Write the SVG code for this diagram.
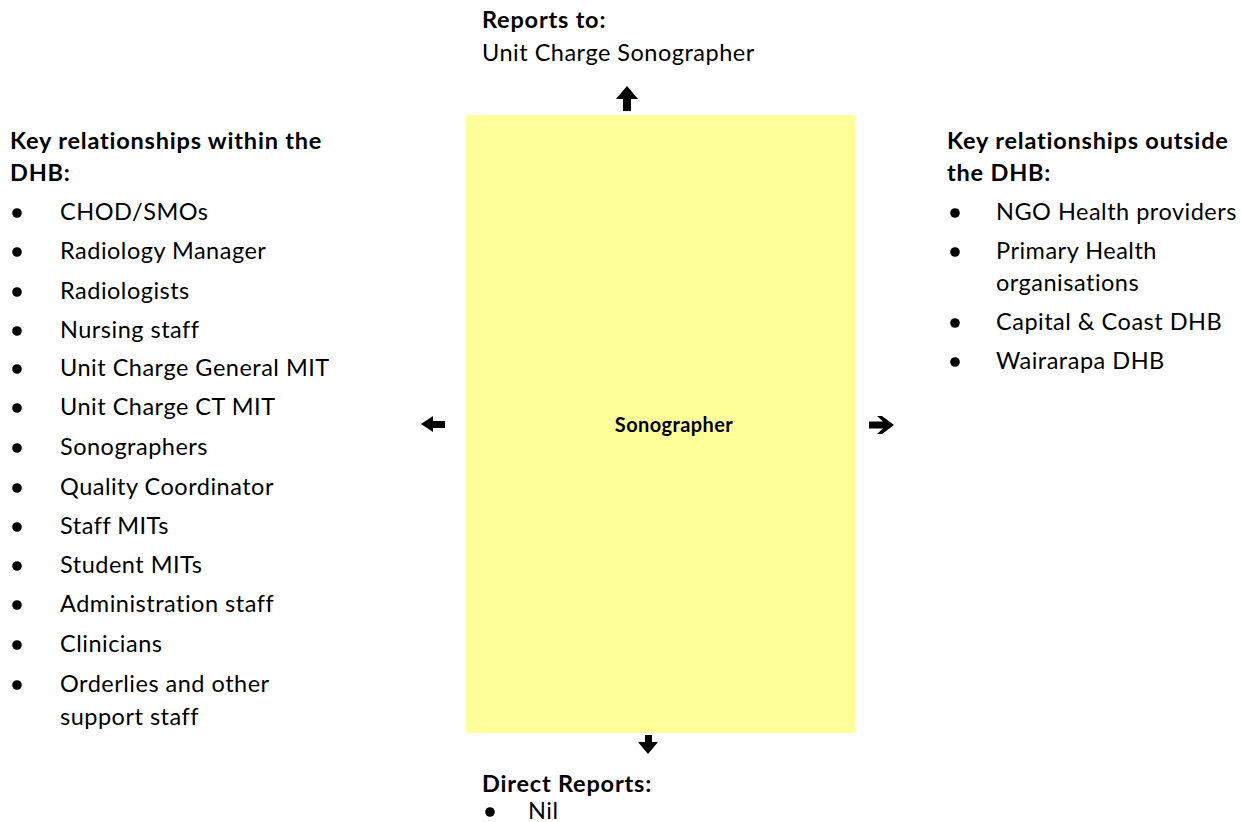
<svg xmlns="http://www.w3.org/2000/svg" width="1241" height="822" viewBox="0 0 1241 822">
<style>
text{font-family:Lato,"Open Sans",sans-serif;font-size:23.5px;letter-spacing:0.5px;fill:#000}
.b{font-weight:bold;letter-spacing:0.8px}
.c{font-size:20px;letter-spacing:0.4px}
.dot{fill:#000}
.arr{fill:#000}
</style>
<defs>
<circle id="bul" r="4.8" class="dot"/>
</defs>
<rect width="1241" height="822" fill="#fff"/>
<g id="role">
<rect x="466" y="115" width="389" height="618" fill="#FFFF99"/>
<text x="674" y="432" class="b c" text-anchor="middle">Sonographer</text>
</g>
<g id="reports-to">
<text x="482" y="28" class="b">Reports to:</text>
<text x="482" y="61">Unit Charge Sonographer</text>
</g>
<g id="within">
<text x="10" y="149" class="b">Key relationships within the</text>
<text x="10" y="181" class="b">DHB:</text>
<use href="#bul" x="17" y="213"/><text x="60" y="220">CHOD/SMOs</text>
<use href="#bul" x="17" y="252"/><text x="60" y="259">Radiology Manager</text>
<use href="#bul" x="17" y="292"/><text x="60" y="299">Radiologists</text>
<use href="#bul" x="17" y="331"/><text x="60" y="338">Nursing staff</text>
<use href="#bul" x="17" y="369"/><text x="60" y="376">Unit Charge General MIT</text>
<use href="#bul" x="17" y="408"/><text x="60" y="415">Unit Charge CT MIT</text>
<use href="#bul" x="17" y="448"/><text x="60" y="455">Sonographers</text>
<use href="#bul" x="17" y="488"/><text x="60" y="495">Quality Coordinator</text>
<use href="#bul" x="17" y="527"/><text x="60" y="534">Staff MITs</text>
<use href="#bul" x="17" y="566"/><text x="60" y="573">Student MITs</text>
<use href="#bul" x="17" y="605"/><text x="60" y="612">Administration staff</text>
<use href="#bul" x="17" y="645"/><text x="60" y="652">Clinicians</text>
<use href="#bul" x="17" y="685"/><text x="60" y="692">Orderlies and other</text>
<text x="60" y="725">support staff</text>
</g>
<g id="outside">
<text x="947" y="149" class="b">Key relationships outside</text>
<text x="947" y="181" class="b">the DHB:</text>
<use href="#bul" x="955" y="213"/><text x="996" y="220">NGO Health providers</text>
<use href="#bul" x="955" y="252"/><text x="996" y="259">Primary Health</text>
<text x="996" y="291">organisations</text>
<use href="#bul" x="955" y="323"/><text x="996" y="330">Capital &amp; Coast DHB</text>
<use href="#bul" x="955" y="362"/><text x="996" y="369">Wairarapa DHB</text>
</g>
<g id="direct-reports">
<text x="482" y="792" class="b">Direct Reports:</text>
<use href="#bul" x="490" y="812"/><text x="528" y="819">Nil</text>
</g>
<g id="connectors">
<path class="arr" d="M627,86 L638,99 L631,99 L631,111 L623,111 L623,99 L616,99 Z"/>
<path class="arr" d="M421,424 L433,416 L433,421 L445,421 L445,428 L433,428 L433,432 Z"/>
<path class="arr" d="M894,425 L882,416 L877,416 L883,421.5 L869,421.5 L869,428.5 L883,428.5 L877,434 L882,434 Z"/>
<path class="arr" d="M648,754 L658,742 L652,742 L652,735 L645,735 L645,742 L638,742 Z"/>
</g>
</svg>
